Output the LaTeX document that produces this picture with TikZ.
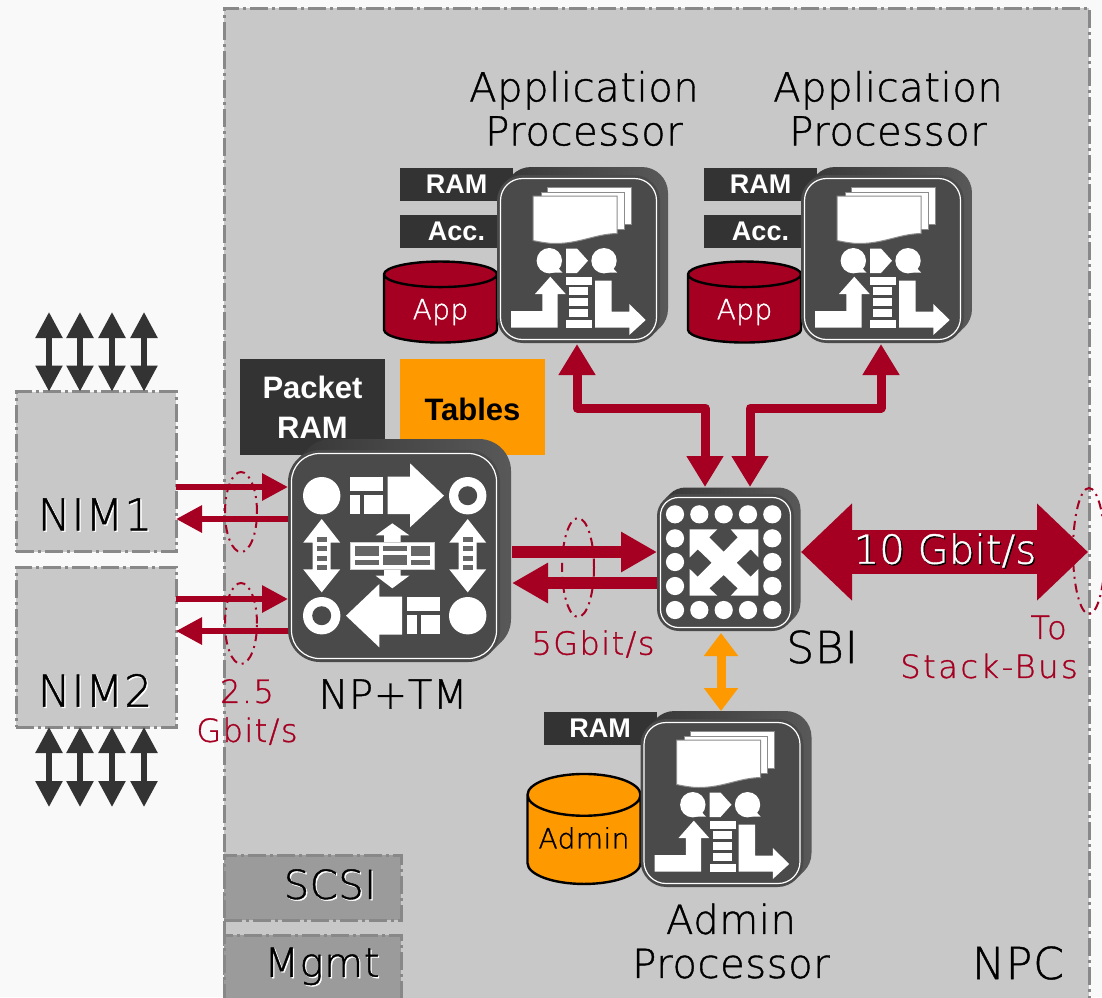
\documentclass[tikz,border=0pt]{standalone}
\usepackage{fontspec}
\setmainfont[LetterSpace=1.5,FakeBold=1]{DejaVu Sans ExtraLight}
\newfontfamily\boxfont{Liberation Sans}
\usetikzlibrary{arrows.meta,shapes.geometric}
\definecolor{npred}{HTML}{A50021}
\definecolor{nporange}{HTML}{FF9900}
\definecolor{npcfill}{HTML}{C8C8C8}
\definecolor{npcline}{HTML}{888888}
\definecolor{slotfill}{HTML}{9B9B9B}
\definecolor{memfill}{HTML}{333333}
\definecolor{chipfill}{HTML}{4A4A4A}
\newcommand{\etched}[2]{\rlap{\color{#1}\raisebox{-1.3pt}{\hspace{1.3pt}#2}}#2}
\newcommand{\chipcase}[7]{%
    \node [chipback, rounded corners=#7pt, minimum width=#4pt, minimum height=#5pt, xshift=#6pt/2, yshift=#6pt/2] at (#2,#3) {};
    \node [chipback, rounded corners=#7pt, minimum width=#4pt, minimum height=#5pt, xshift=#6pt, yshift=#6pt] at (#2,#3) {};
    \node [chipface, rounded corners=#7pt, minimum width=#4pt, minimum height=#5pt] (#1) at (#2,#3) {};
    \node [chipline, rounded corners=#7pt-4pt, minimum width=#4pt-7pt, minimum height=#5pt-7pt] at (#2,#3) {};
}
\tikzset{
    bare/.style={inner sep=0pt, outer sep=0pt},
    dashdot/.style={draw=npcline, line width=3pt, dash pattern=on 18pt off 4pt on 3pt off 4pt},
    npcbox/.style={bare, dashdot, fill=npcfill, anchor=north west},
    nimbox/.style={bare, dashdot, fill=npcfill, minimum width=160pt, minimum height=160pt},
    slotbox/.style={bare, dashdot, fill=slotfill, minimum width=177pt, anchor=north west},
    membox/.style={bare, fill=memfill, text=white, font=\boxfont\bfseries\fontsize{27}{30}\selectfont, minimum width=113pt, minimum height=33pt},
    bigbox/.style={bare, align=center, font=\boxfont\bfseries\fontsize{31}{40}\selectfont, minimum width=145pt, minimum height=96pt},
    drum/.style={bare, draw=black, line width=2.4pt, cylinder, shape border rotate=90, aspect=.46, minimum width=113pt, font=\fontsize{28}{30}\selectfont},
    chipback/.style={bare, left color=black!78, right color=chipfill!92!white},
    chipface/.style={bare, fill=chipfill},
    chipline/.style={bare, draw=white, line width=1.2pt},
    label/.style={bare, align=center, font=\fontsize{40}{44}\selectfont},
    wideish/.style={label, font=\fontsize{44}{48}\selectfont\addfontfeature{LetterSpace=2}},
    redlabel/.style={label, text=npred, font=\fontsize{32}{39}\selectfont\addfontfeature{LetterSpace=4.5}},
    iconfill/.style={fill=white},
    pagefill/.style={fill=white, draw=black!45, line width=1pt},
    holefill/.style={fill=black!60},
    linkout/.style={draw=npred, line width=6pt, -{Triangle[length=26pt,width=26pt]}},
    sbilink/.style={draw=npred, line width=12pt, -{Triangle[length=36pt,width=38pt]}},
    redbus/.style={draw=npred, line width=9pt, line join=round, {Triangle[length=31pt,width=35pt]}-{Triangle[length=31pt,width=35pt]}},
    orangebus/.style={draw=nporange, line width=9pt, {Triangle[length=23pt,width=33pt]}-{Triangle[length=23pt,width=33pt]}},
    stackbus/.style={draw=npred, line width=44pt, {Triangle[length=51pt,width=94pt]}-{Triangle[length=51pt,width=94pt]}},
    iobus/.style={draw=memfill, line width=5.5pt, {Triangle[length=26pt,width=26pt]}-{Triangle[length=26pt,width=26pt]}},
    busring/.style={bare, ellipse, draw=npred, line width=2pt, dash pattern=on 9pt off 5pt on 2pt off 5pt},
    procchip/.pic={
        \node [membox] (-ram) at (456.5,184) {RAM};
        \chipcase{-body}{578.5}{259}{163}{168}{8}{26}
        \coordinate (-port) at (577,344);
        % pages
        \draw [pagefill] (547,187) rectangle (631,224);
        \draw [pagefill] (541,192) rectangle (624,229);
        \draw [pagefill] (533,196) -- (617,196) -- (617,233.5) .. controls (595,234) and (580,243.5) .. (555,243.5) .. controls (548,243.5) and (540,242) .. (533,240.5) -- cycle;
        % queue and stack
        \foreach \x in {549.3,604} {
            \fill [iconfill] (\x,260.7) circle (12.7);
            \fill [iconfill] (\x+7,266) -- (\x+13.2,272.7) -- (\x,272.7) -- cycle;
        }
        \fill [iconfill] (566,248.5) -- (577,248.5) -- (588,260.7) -- (577,273) -- (566,273) -- cycle;
        \fill [iconfill] (511,311) -- (542.3,311) -- (542.3,294) -- (535,294) -- (550.3,276.7) -- (565.7,294) -- (557.7,294) -- (557.7,327.7) -- (511,327.7) -- cycle;
        \fill [iconfill] (595,280.7) -- (611.7,280.7) -- (611.7,311.7) -- (629.3,311.7) -- (629.3,304) -- (645.7,320) -- (629.3,335) -- (629.3,327.7) -- (595,327.7) -- cycle;
        \fill [iconfill] (566,276.7) rectangle (592,285);
        \fill [iconfill] (566,320) rectangle (592,328.3);
        \foreach \y in {287.3,298,309.3} {
            \fill [iconfill] (569.3,\y) rectangle (588.3,\y+7.5);
        }
    },
    updown/.pic={
        \fill [iconfill] (0,0) -- (18.5,23.7) -- (9,23.7) -- (9,50.3) -- (18.5,50.3) -- (0,73.3) -- (-18.5,50.3) -- (-9,50.3) -- (-9,23.7) -- (-18.5,23.7) -- cycle;
        \foreach \y in {18,27,37,46} {
            \fill [holefill] (-5,\y) rectangle (5,\y+5);
        }
    }
}
\begin{document}
\begin{tikzpicture}[x=1pt,y=-1pt]
    \path [use as bounding box, clip] (0,0) rectangle (1102,997);
    \fill [black!2.5] (0,0) rectangle (1102,997);

    \node [npcbox, minimum width=865pt, minimum height=1040pt] (npc) at (224,8) {};
    \node [nimbox] (nimone) at (96,471.5) {};
    \node [nimbox] (nimtwo) at (96,647) {};
    \node [slotbox, minimum height=65pt] (scsi) at (224,855) {};
    \node [slotbox, minimum height=90pt] (mgmt) at (224,935) {};

    \node [bigbox, fill=memfill, text=white] (pktram) at (312.5,407) {Packet\\RAM};
    \node [bigbox, fill=nporange] (tables) at (472.5,407) {\raisebox{-2pt}[\height][\depth]{Tables}};

    \node [membox] (appacc) at (456.5,231.5) {Acc.};
    \node [membox] (apptwoacc) at (760.5,231.5) {Acc.};
    \node [drum, fill=npred, text=white, minimum height=81pt] (appdisk) at (440.5,309) {\raisebox{-3pt}[\height][\depth]{App}};
    \node [drum, fill=npred, text=white, minimum height=81pt] (apptwodisk) at (744.5,309) {\raisebox{-3pt}[\height][\depth]{App}};
    \node [drum, fill=nporange, minimum height=110pt] (admindisk) at (584,840) {\raisebox{2pt}[\height][\depth]{Admin}};

    \pic (appone) at (0,0) {procchip};
    \pic (apptwo) at (304,0) {procchip};
    \pic (admin) at (143.5,544) {procchip};

    % network processor
    \chipcase{np}{394}{556}{212}{212}{11}{32}
    \foreach \x/\y in {321.7/495.7,467.7/615.7} {
        \fill [iconfill] (\x,\y) circle (18.7);
    }
    \foreach \x/\y in {467.7/495.7,321.7/615.7} {
        \fill [iconfill] (\x,\y) circle (18.7);
        \fill [chipfill] (\x,\y) circle (9.5);
    }
    \foreach \x/\y in {0/0,56.7/120.3} {
        \begin{scope}[shift={(\x,\y)}]
            \fill [iconfill] (350,476.7) rectangle (383,491);
            \fill [iconfill] (350,495) rectangle (360,514);
            \fill [iconfill] (364,495) rectangle (383,514);
        \end{scope}
    }
    \fill [iconfill] (387.7,476.7) -- (410,476.7) -- (410,463.3) -- (444,495.7) -- (410,527.3) -- (410,514) -- (387.7,514) -- cycle;
    \fill [iconfill] (346,615.7) -- (379.3,584) -- (379.3,596.7) -- (402,596.7) -- (402,634.7) -- (379.3,634.7) -- (379.3,647.3) -- cycle;
    \pic at (321.7,519) {updown};
    \pic at (467.7,519) {updown};
    \fill [iconfill] (392.3,523.3) -- (409.3,535.3) -- (400.7,535.3) -- (400.7,575.7) -- (409.3,575.7) -- (392.3,588.3) -- (375.7,575.7) -- (384,575.7) -- (384,535.3) -- (375.7,535.3) -- cycle;
    \draw [fill=white, draw=black!20, line width=.8pt] (350,542) rectangle (434.7,569.3);
    \fill [holefill] (355,546) rectangle (379,556);
    \fill [holefill] (383.3,546) rectangle (406.7,551);
    \fill [holefill] (411,546) rectangle (430,556);
    \fill [holefill] (355,560) rectangle (379,565);
    \fill [holefill] (383.3,555) rectangle (406.7,565);
    \fill [holefill] (411,560) rectangle (430,565);

    % switch
    \chipcase{sbi}{725.5}{562.5}{137}{137}{6.5}{22}
    \foreach \x in {675,699.3,723.7,748,772.3} {
        \fill [iconfill] (\x,514.3) circle (9.1);
        \fill [iconfill] (\x,610) circle (9.1);
    }
    \foreach \y in {538.3,562,586} {
        \fill [iconfill] (675,\y) circle (9.1);
        \fill [iconfill] (772.3,\y) circle (9.1);
    }
    \fill [iconfill] (689.7,529.3) -- (717.3,529.3) -- (709.3,537.3) -- (723.7,551.7) -- (737.7,537.3) -- (730.7,529.3) -- (758.3,529.3) -- (758.3,557.3) -- (750.7,549.3) -- (736.7,562.7) -- (750.7,576.7) -- (758.3,569) -- (758.3,595.7) -- (730.7,595.7) -- (737.7,588.3) -- (723.7,575) -- (709.3,588.3) -- (717.3,595.7) -- (689.7,595.7) -- (689.7,569) -- (697.7,576.7) -- (711.7,562.7) -- (697.7,549.3) -- (689.7,557.3) -- cycle;

    % links
    \coordinate (nponein) at (288,487);
    \coordinate (nponeout) at (288,519);
    \coordinate (nptwoin) at (288,599);
    \coordinate (nptwoout) at (288,631);
    \draw [linkout] (nimone.east |- nponein) -- (nponein);
    \draw [linkout] (nponeout) -- (nimone.east |- nponeout);
    \draw [linkout] (nimtwo.east |- nptwoin) -- (nptwoin);
    \draw [linkout] (nptwoout) -- (nimtwo.east |- nptwoout);

    \coordinate (npsbiin) at (512,552);
    \coordinate (npsbiout) at (512,583);
    \draw [sbilink] (npsbiin) -- (sbi.west |- npsbiin);
    \draw [sbilink] (sbi.west |- npsbiout) -- (npsbiout);

    \coordinate (sbitopl) at (705,487);
    \coordinate (sbitopr) at (750,487);
    \draw [redbus] (sbitopl) -- ++(0,-79) -| (appone-port);
    \draw [redbus] (sbitopr) -- ++(0,-79) -| (apptwo-port);

    \coordinate (sbibot) at (721,633);
    \coordinate (adminport) at (721,711);
    \draw [orangebus] (sbibot) -- (adminport);

    \coordinate (sbiport) at (801,552);
    \coordinate (stackend) at (1088,552);
    \draw [stackbus] (sbiport) -- (stackend);

    \foreach \x in {49,80,112,144} {
        \coordinate (upio\x) at (\x,312);
        \coordinate (downio\x) at (\x,807);
        \draw [iobus] (upio\x) -- (upio\x |- nimone.north);
        \draw [iobus] (nimtwo.south -| downio\x) -- (downio\x);
    }

    \node [busring, minimum width=32pt, minimum height=80pt] (ringone) at (241,512) {};
    \node [busring, minimum width=32pt, minimum height=81pt] (ringtwo) at (241,623.5) {};
    \node [busring, minimum width=32pt, minimum height=99pt] (ringsbi) at (578,567.5) {};
    \node [busring, minimum width=32pt, minimum height=126pt] (ringstack) at (1089,551) {};

    % labels
    \node [label] (appname) at (584,108.5) {Application\\Processor};
    \node [label] (apptwoname) at (888,108.5) {Application\\Processor};
    \node [label] (adminname) at (731,941) {Admin\\Processor};
    \node [label] (npname) at (393,694) {NP+TM};
    \node [wideish] (sbiname) at (822,647) {SBI};
    \node [wideish] (npcname) at (1018,963) {NPC};
    \node [wideish] (nimonename) at (95,515) {\etched{white}{NIM1}};
    \node [wideish] (nimtwoname) at (95,691) {\etched{white}{NIM2}};
    \node [label] (scsiname) at (330,885) {\etched{white}{SCSI}};
    \node [label] (mgmtname) at (322,967) {\etched{white}{Mgmt}};
    \node [label, text=white, font=\fontsize{40}{44}\selectfont\addfontfeature{LetterSpace=0.5}] (stackspeed) at (945,551) {\etched{black}{10 Gbit/s}};
    \node [redlabel] (nimspeed) at (247,712) {2.5\\Gbit/s};
    \node [redlabel] (sbispeed) at (593,644) {5Gbit/s};
    \node [redlabel, align=right, font=\fontsize{32}{39}\selectfont\addfontfeature{LetterSpace=8}] (stackname) at (989,647) {To\hspace*{11pt}\\Stack-Bus};
\end{tikzpicture}
\end{document}
